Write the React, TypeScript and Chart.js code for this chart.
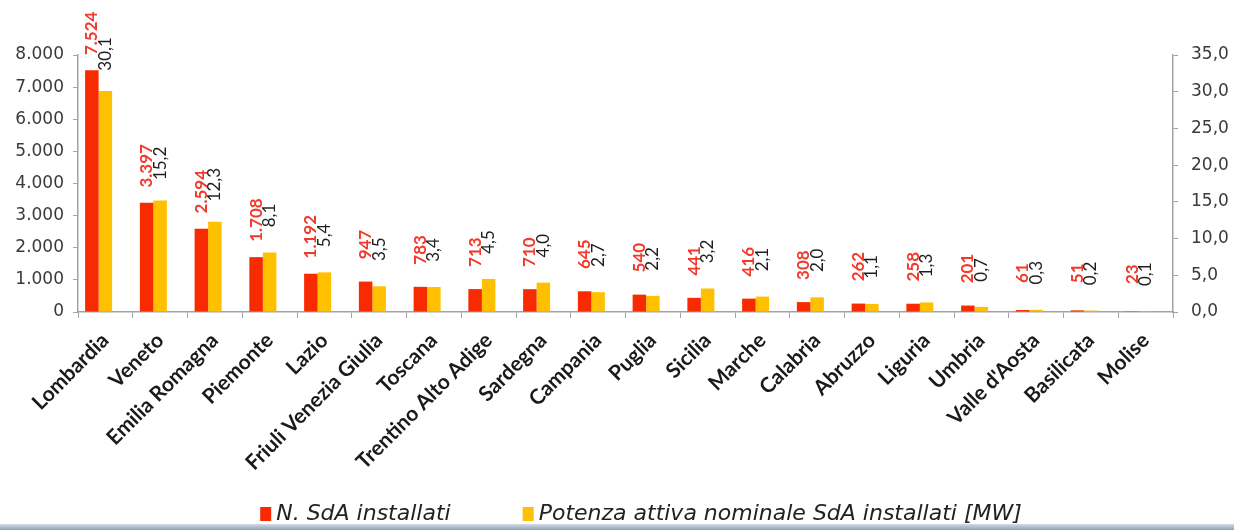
import React, { useEffect, useRef } from 'react';
import { Chart, registerables } from 'chart.js';

Chart.register(...registerables);

// Regions, ordered by number of installed storage systems (SdA)
const regions = [
  'Lombardia',
  'Veneto',
  'Emilia Romagna',
  'Piemonte',
  'Lazio',
  'Friuli Venezia Giulia',
  'Toscana',
  'Trentino Alto Adige',
  'Sardegna',
  'Campania',
  'Puglia',
  'Sicilia',
  'Marche',
  'Calabria',
  'Abruzzo',
  'Liguria',
  'Umbria',
  "Valle d'Aosta",
  'Basilicata',
  'Molise',
];

// N. SdA installati
const sdaCount = [7524, 3397, 2594, 1708, 1192, 947, 783, 713, 710, 645, 540, 441, 416, 308, 262, 258, 201, 61, 51, 23];

// Potenza attiva nominale SdA installati [MW]
const sdaPowerMW = [30.1, 15.2, 12.3, 8.1, 5.4, 3.5, 3.4, 4.5, 4.0, 2.7, 2.2, 3.2, 2.1, 2.0, 1.1, 1.3, 0.7, 0.3, 0.2, 0.1];

// Axis ranges
const countAxis = { min: 0, max: 8000, step: 1000 };
const powerAxis = { min: 0, max: 35, step: 5 };

const seriesNames = ['N. SdA installati', 'Potenza attiva nominale SdA installati [MW]'];

const RED = '#f82a00';
const GOLD = '#ffc000';
const AXIS_GREY = '#a3a3a3';

const formatCount = (v: number) => String(Math.round(v)).replace(/\B(?=(\d{3})+(?!\d))/g, '.');
const formatMW = (v: number) => v.toFixed(1).replace('.', ',');

// Vertical value labels above each bar
const barValueLabels = {
  id: 'barValueLabels',
  afterDatasetsDraw(chart: any) {
    const ctx = chart.ctx;
    const specs = [
      { index: 0, font: 'bold 17px Lato', color: '#f2392b', fmt: formatCount },
      { index: 1, font: '17px Lato', color: '#1e1e1e', fmt: formatMW },
    ];
    specs.forEach((s) => {
      const meta = chart.getDatasetMeta(s.index);
      const values = chart.data.datasets[s.index].data as number[];
      meta.data.forEach((bar: any, i: number) => {
        ctx.save();
        ctx.translate(bar.x, bar.y - 37);
        ctx.rotate(-Math.PI / 2);
        ctx.font = s.font;
        ctx.fillStyle = s.color;
        ctx.textAlign = 'center';
        ctx.textBaseline = 'middle';
        ctx.fillText(s.fmt(values[i]), 0, 0);
        ctx.restore();
      });
    });
  },
};

// Legend row under the category labels
const LEGEND = { centerX: 641, centerY: 514, box: 11, boxH: 14, boxGap: 5, itemGap: 72 };
const bottomLegend = {
  id: 'bottomLegend',
  afterDraw(chart: any) {
    const ctx = chart.ctx;
    const items = chart.data.datasets
      .filter((d: any) => d.label)
      .map((d: any) => ({ text: d.label as string, color: d.backgroundColor as string }));
    ctx.save();
    ctx.font = 'oblique 22px "DejaVu Sans"';
    const widths = items.map((it: any) => LEGEND.box + LEGEND.boxGap + ctx.measureText(it.text).width);
    const total = widths.reduce((a: number, b: number) => a + b, 0) + LEGEND.itemGap * (items.length - 1);
    let x = LEGEND.centerX - total / 2;
    items.forEach((it: any, i: number) => {
      ctx.fillStyle = it.color;
      ctx.fillRect(x, LEGEND.centerY - LEGEND.boxH / 2, LEGEND.box, LEGEND.boxH);
      ctx.fillStyle = '#222';
      ctx.textAlign = 'left';
      ctx.textBaseline = 'middle';
      ctx.fillText(it.text, x + LEGEND.box + LEGEND.boxGap, LEGEND.centerY);
      x += widths[i] + LEGEND.itemGap;
    });
    ctx.restore();
  },
};

export default function App() {
  const canvasRef = useRef<HTMLCanvasElement | null>(null);

  useEffect(() => {
    const canvas = canvasRef.current;
    if (!canvas) return;

    const chart = new Chart(canvas, {
      type: 'bar',
      data: {
        labels: regions,
        datasets: [
          {
            label: seriesNames[0],
            data: sdaCount,
            backgroundColor: RED,
            yAxisID: 'y',
            categoryPercentage: 0.74,
            barPercentage: 1,
          },
          {
            label: seriesNames[1],
            data: sdaPowerMW,
            backgroundColor: GOLD,
            yAxisID: 'y1',
            categoryPercentage: 0.74,
            barPercentage: 1,
          },
          {
            // empty slot that keeps the pair of bars left of the category centre
            label: '',
            data: regions.map(() => null),
            backgroundColor: 'rgba(0,0,0,0)',
            yAxisID: 'y',
            categoryPercentage: 0.74,
            barPercentage: 1,
          },
        ],
      },
      options: {
        responsive: false,
        animation: false,
        devicePixelRatio: 1,
        layout: { padding: { top: 55, left: 0, right: 0, bottom: 30 } },
        plugins: {
          title: { display: false },
          tooltip: { enabled: false },
          legend: { display: false },
        },
        scales: {
          x: {
            border: { display: true, color: AXIS_GREY, width: 1.5 },
            grid: {
              display: true,
              drawOnChartArea: false,
              drawTicks: true,
              tickLength: 6,
              color: AXIS_GREY,
              offset: true,
            },
            ticks: {
              autoSkip: false,
              minRotation: 45,
              maxRotation: 45,
              padding: 10,
              color: '#1a1a1a',
              font: { family: 'Lato', size: 21, weight: 'bold' },
            },
            afterFit: (scale: any) => {
              scale.height = 188;
            },
          },
          y: {
            position: 'left',
            min: countAxis.min,
            max: countAxis.max,
            border: { display: true, color: AXIS_GREY, width: 1.5 },
            grid: { drawOnChartArea: false, drawTicks: true, tickLength: 5, color: AXIS_GREY },
            ticks: {
              stepSize: countAxis.step,
              padding: 9,
              color: '#3a3a3a',
              font: { family: 'DejaVu Sans', size: 17 },
              callback: (v: any) => formatCount(Number(v)),
            },
            afterFit: (scale: any) => {
              scale.width = 78;
            },
          },
          y1: {
            position: 'right',
            min: powerAxis.min,
            max: powerAxis.max,
            border: { display: true, color: AXIS_GREY, width: 1.5 },
            grid: { drawOnChartArea: false, drawTicks: true, tickLength: 5, color: AXIS_GREY },
            ticks: {
              stepSize: powerAxis.step,
              padding: 13,
              color: '#3a3a3a',
              font: { family: 'DejaVu Sans', size: 17 },
              callback: (v: any) => formatMW(Number(v)),
            },
            afterFit: (scale: any) => {
              scale.width = 61;
            },
          },
        },
      },
      plugins: [barValueLabels, bottomLegend],
    });

    return () => chart.destroy();
  }, []);

  return (
    <div
      style={{
        position: 'fixed',
        left: 0,
        top: 0,
        width: 1234,
        height: 530,
        overflow: 'hidden',
        background: '#ffffff',
      }}
    >
      <canvas ref={canvasRef} width={1234} height={530} />
      <div
        style={{
          position: 'absolute',
          left: 0,
          bottom: 0,
          width: '100%',
          height: 6,
          background: 'linear-gradient(#d3dbe5, #8fa1b7)',
        }}
      />
    </div>
  );
}
